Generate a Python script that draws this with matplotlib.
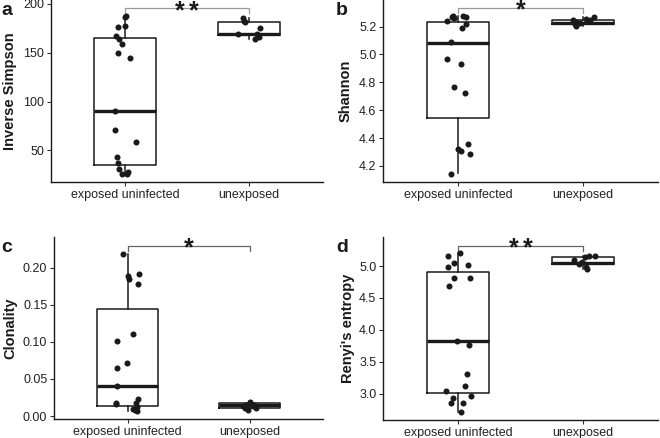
import matplotlib
matplotlib.use("Agg")
from matplotlib import pyplot as plt

plt.rcParams['font.family'] = ['Liberation Sans', 'DejaVu Sans']

groups = ['exposed uninfected', 'unexposed']

# panel a: Inverse Simpson
simpson_exp = [187.7, 186.3, 176.0, 177.1, 167.5, 163.7, 158.6, 150.0, 144.3,
               90.5, 71.2, 58.2, 43.4, 37.3, 30.8, 26.0, 26.0, 28.0]
simpson_exp_jit = [0.008, -0.005, -0.062, -0.005, -0.073, -0.051, -0.024, -0.062, 0.035,
                   -0.081, -0.081, 0.089, -0.070, -0.062, -0.051, -0.024, 0.013, 0.024]
simpson_unexp = [185.3, 183.0, 181.8, 175.7, 168.8, 168.8, 166.4, 163.7]
simpson_unexp_jit = [-0.051, -0.035, -0.027, 0.089, -0.089, 0.067, 0.081, 0.054]
simpson_box = [(25.7, 34.9, 90.5, 165.4, 187.7), (163.7, 168.5, 169.5, 181.8, 185.3)]

# panel b: Shannon
shannon_exp = [5.277, 5.270, 5.277, 5.270, 5.260, 5.243, 5.217, 5.188, 5.089,
               4.964, 4.933, 4.769, 4.720, 4.324, 4.305, 4.361, 4.286, 4.141]
shannon_exp_jit = [-0.045, -0.053, 0.040, 0.061, -0.035, -0.093, 0.061, 0.027, -0.061,
                   -0.093, 0.019, -0.032, 0.053, -0.003, 0.024, 0.075, 0.093, -0.061]
shannon_unexp = [5.250, 5.220, 5.206, 5.257, 5.265, 5.245, 5.230, 5.225]
shannon_unexp_jit = [-0.077, -0.064, -0.059, 0.021, 0.088, 0.056, -0.053, -0.027]
shannon_box = [(4.147, 4.543, 5.085, 5.231, 5.277), (5.205, 5.215, 5.222, 5.250, 5.265)]

# panel c: Clonality
clon_exp = [0.2185, 0.189, 0.185, 0.192, 0.178, 0.111, 0.1017, 0.071, 0.0648,
            0.041, 0.0173, 0.0165, 0.0118, 0.0175, 0.0226, 0.0095, 0.008, 0.0063]
clon_exp_jit = [-0.041, 0.0, 0.014, 0.096, 0.085, 0.041, -0.085, -0.003, -0.085,
                -0.085, -0.093, -0.098, 0.079, 0.068, 0.085, 0.046, 0.060, 0.074]
clon_unexp = [0.0154, 0.0185, 0.0154, 0.0109, 0.0086, 0.011, 0.013, 0.014]
clon_unexp_jit = [-0.027, 0.0, 0.033, 0.055, -0.014, -0.041, 0.027, -0.055]
clon_box = [(0.0063, 0.014, 0.041, 0.1446, 0.2185), (0.0086, 0.0109, 0.0154, 0.0177, 0.0185)]

# panel d: Renyi's entropy
renyi_exp = [5.20, 5.16, 5.04, 4.98, 5.01, 4.81, 4.81, 4.68, 3.83,
             3.76, 3.31, 3.12, 3.04, 2.93, 2.97, 2.85, 2.86, 2.72]
renyi_exp_jit = [0.013, -0.085, -0.032, -0.085, 0.080, -0.032, 0.093, -0.072, -0.013,
                 0.085, 0.072, 0.053, -0.099, -0.040, 0.099, -0.056, 0.040, 0.021]
renyi_unexp = [5.10, 5.03, 4.96, 4.98, 5.15, 5.16, 5.14, 5.06]
renyi_unexp_jit = [-0.072, -0.032, 0.029, 0.021, 0.048, 0.096, 0.016, -0.005]
renyi_box = [(2.72, 3.01, 3.82, 4.90, 5.20), (4.96, 5.03, 5.04, 5.14, 5.16)]

panels = [
    dict(letter='a', ylabel='Inverse Simpson', exp=simpson_exp, exp_jit=simpson_exp_jit,
         unexp=simpson_unexp, unexp_jit=simpson_unexp_jit, box=simpson_box,
         ticks=[50, 100, 150, 200], fmt='{:.0f}', ylim=(17.5, 204.1),
         bracket=(195.6, 190.5), stars=2, bcol='#9a9a9a',
         rect=(51, 0, 272, 182), labx=17),
    dict(letter='b', ylabel='Shannon', exp=shannon_exp, exp_jit=shannon_exp_jit,
         unexp=shannon_unexp, unexp_jit=shannon_unexp_jit, box=shannon_box,
         ticks=[4.2, 4.4, 4.6, 4.8, 5.0, 5.2], fmt='{:.1f}', ylim=(4.083, 5.39),
         bracket=(5.334, 5.300), stars=1, bcol='#9a9a9a',
         rect=(383.3, 0, 274.7, 182.3), labx=353),
    dict(letter='c', ylabel='Clonality', exp=clon_exp, exp_jit=clon_exp_jit,
         unexp=clon_unexp, unexp_jit=clon_unexp_jit, box=clon_box,
         ticks=[0.0, 0.05, 0.10, 0.15, 0.20], fmt='{:.2f}', ylim=(-0.004, 0.241),
         bracket=(0.2296, 0.2229), stars=1, bcol='#666666',
         rect=(54.3, 237.3, 268.7, 181.7), labx=17),
    dict(letter='d', ylabel="Renyi's entropy", exp=renyi_exp, exp_jit=renyi_exp_jit,
         unexp=renyi_unexp, unexp_jit=renyi_unexp_jit, box=renyi_box,
         ticks=[3.0, 3.5, 4.0, 4.5, 5.0], fmt='{:.1f}', ylim=(2.588, 5.45),
         bracket=(5.318, 5.24), stars=2, bcol='#666666',
         rect=(383.3, 237.3, 274.7, 182.7), labx=355),
]

W, H = 660, 438
fig = plt.figure(figsize=(W / 100, H / 100), dpi=100)

for p in panels:
    x0, y0, w, h = p['rect']
    ax = fig.add_axes([x0 / W, (H - y0 - h) / H, w / W, h / H])

    stats = []
    for lo, q1, med, q3, hi in p['box']:
        stats.append(dict(whislo=lo, q1=q1, med=med, q3=q3, whishi=hi, fliers=[]))
    ax.bxp(stats, positions=[1, 2], widths=0.5, showfliers=False, showcaps=False,
           boxprops=dict(color='#1a1a1a', linewidth=1.1),
           whiskerprops=dict(color='#1a1a1a', linewidth=1.1),
           medianprops=dict(color='#1a1a1a', linewidth=2.4, solid_capstyle='butt'))

    ax.scatter([1 + j for j in p['exp_jit']], p['exp'], s=19, color='#1a1a1a',
               zorder=3, linewidths=0)
    ax.scatter([2 + j for j in p['unexp_jit']], p['unexp'], s=19, color='#1a1a1a',
               zorder=3, linewidths=0)

    # significance bracket
    by, tip = p['bracket']
    ax.plot([1, 1, 2, 2], [tip, by, by, tip], color=p['bcol'], lw=0.9,
            clip_on=False, zorder=2)
    offs = [0] if p['stars'] == 1 else [-5, 5]
    for dx in offs:
        ax.annotate('*', xy=(1.5, by), xytext=(dx, -7), textcoords='offset points',
                    ha='center', va='baseline', fontsize=18, fontweight='bold',
                    color='#1a1a1a', annotation_clip=False)

    ax.set_xlim(0.4, 2.6)
    ax.set_ylim(*p['ylim'])
    ax.set_xticks([1, 2])
    ax.set_xticklabels(groups)
    ax.set_yticks(p['ticks'])
    ax.set_yticklabels([p['fmt'].format(t) for t in p['ticks']])
    ax.tick_params(axis='both', labelsize=9, colors='#333333', length=3, width=0.8,
                   pad=2)
    ax.tick_params(axis='both', labelcolor='#222222')
    for s in ['top', 'right']:
        ax.spines[s].set_visible(False)
    for s in ['left', 'bottom']:
        ax.spines[s].set_linewidth(1.0)
        ax.spines[s].set_color('#1a1a1a')

    ax.set_ylabel(p['ylabel'], fontsize=10.5, fontweight='bold', color='#1a1a1a')
    ax.yaxis.set_label_coords((p['labx'] - x0) / w, 0.5)

    lx = 1 if p['letter'] in 'ac' else 336
    ly = 15 if p['letter'] in 'ab' else 252
    fig.text(lx / W, 1 - ly / H, p['letter'], fontsize=14, fontweight='bold',
             ha='left', va='baseline', color='#1a1a1a')

fig.savefig('out.png', dpi=100)
